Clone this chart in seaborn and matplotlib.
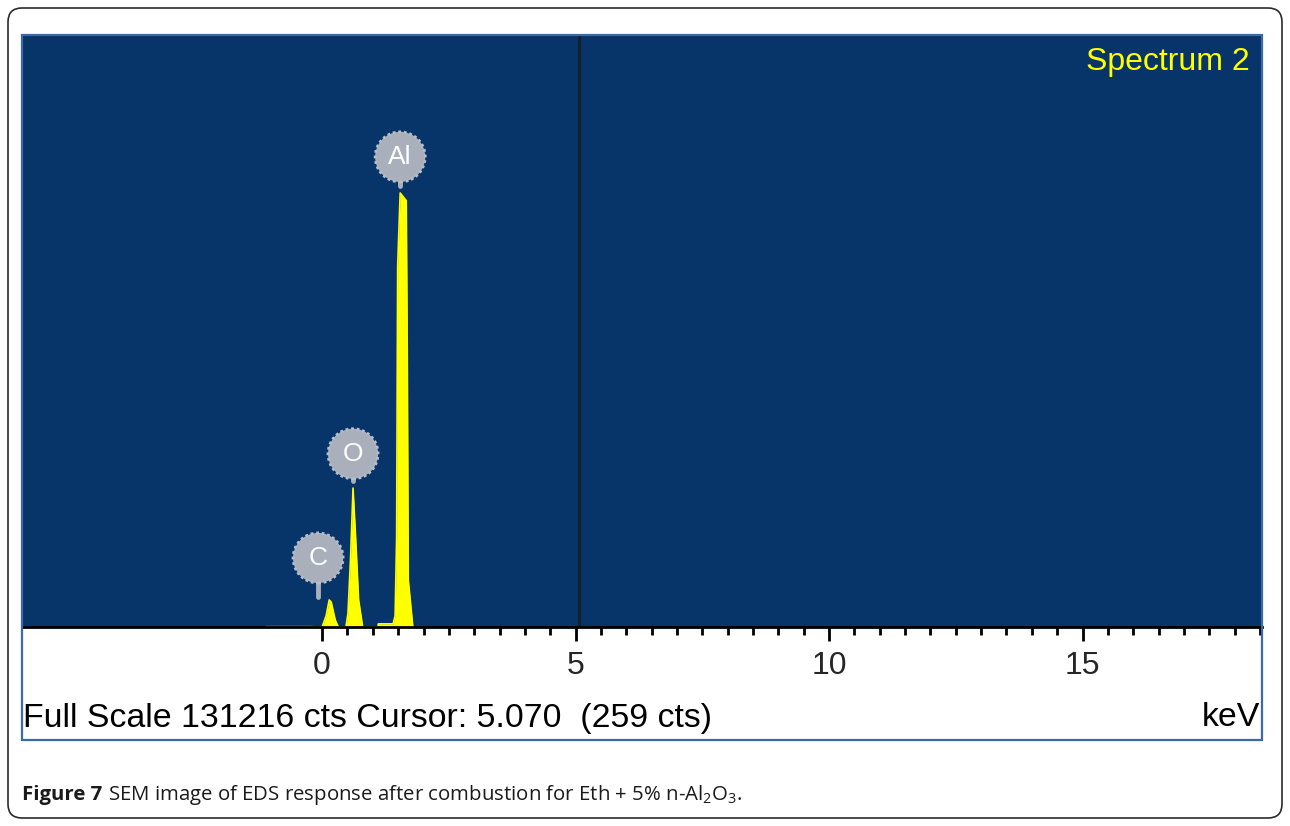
import numpy as np
import pandas as pd
import matplotlib
matplotlib.use("Agg")
import matplotlib.pyplot as plt
import seaborn as sns
from matplotlib.patches import FancyBboxPatch, Rectangle
from matplotlib.transforms import IdentityTransform

# EDS spectrum (energy in keV, counts)
energy = [-1.10, -0.20, 0.00, 0.08, 0.14, 0.18, 0.26, 0.32,
          0.47, 0.51, 0.56, 0.61, 0.66, 0.72, 0.80,
          1.10, 1.11, 1.40, 1.44, 1.47, 1.49, 1.54, 1.66, 1.68, 1.70, 1.79]
counts = [0, 0, 0, 2500, 6000, 5500, 1500, 0,
          0, 3000, 15000, 30800, 20000, 6000, 0,
          0, 700, 700, 2500, 20000, 80000, 96200, 94500, 60000, 10400, 0]

# element markers: label, energy, badge height (cts)
elements = ["C", "O", "Al"]
element_kev = [-0.08, 0.61, 1.54]
element_peak = [5200, 30800, 96200]
badge_cts = [15300, 38400, 104200]

full_scale = 131216
cursor_kev = 5.070
cursor_cts = 259
major_ticks = [0, 5, 10, 15]
x_min, x_max = -5.92, 18.54

bg_blue = "#07356a"
yellow = "#ffff00"
badge_grey = "#a9afbb"

sns.set_style("white")
plt.rcParams["font.family"] = ["Liberation Sans", "DejaVu Sans"]
plt.rcParams["mathtext.fontset"] = "custom"
plt.rcParams["mathtext.rm"] = "Open Sans"

fig = plt.figure(figsize=(12.9, 8.26), dpi=100)
W, H = 1290, 826

# outer rounded frame
frame = FancyBboxPatch((8, 8), 1274, 810, boxstyle="round,pad=0,rounding_size=14",
                       transform=IdentityTransform(), facecolor="white",
                       edgecolor="#2b2b2b", lw=1.2, zorder=-5)
fig.patches.append(frame)

# blue border of the spectrum window
win = Rectangle((22, H - 740), 1240, 705, transform=IdentityTransform(),
                facecolor="none", edgecolor="#3c6aa8", lw=1.6, zorder=5)
fig.patches.append(win)

ax = fig.add_axes([22 / W, 1 - 627 / H, 1240 / W, 592 / H])
ax.set_facecolor(bg_blue)

df = pd.DataFrame({"keV": energy, "cts": counts})
ax.fill_between(df["keV"], 0, df["cts"], color=yellow, lw=0, zorder=2)
sns.lineplot(data=df, x="keV", y="cts", ax=ax, color=yellow, lw=1.2,
             sort=False, estimator=None, zorder=2)
# faint trace left of zero
ax.plot(df["keV"][:2], df["cts"][:2], color="#6d95c9", lw=2.5, zorder=2.2)

# cursor line
ax.axvline(cursor_kev, color="#15202e", lw=2.5, zorder=1)

# element badges
for lab, ex, pk, by in zip(elements, element_kev, element_peak, badge_cts):
    ax.plot([ex, ex], [pk + 1500, by], color=badge_grey, lw=3.5, zorder=4)
    ax.scatter([ex], [by], s=1300, color=badge_grey, edgecolor="#b8bec9",
               linewidth=2, linestyle=(0, (1, 1)), zorder=5)
    ax.text(ex, by, lab, color="white", fontsize=19, ha="center", va="center",
            zorder=6)

ax.text(0.99, 0.955, "Spectrum 2", transform=ax.transAxes, color=yellow,
        fontsize=23, ha="right", va="center")

ax.set_xlim(x_min, x_max)
ax.set_ylim(0, full_scale)
ax.set_yticks([])
ax.set_xlabel("")
ax.set_ylabel("")
ax.set_xticks(major_ticks)
ax.set_xticklabels([str(t) for t in major_ticks])
ax.set_xticks(np.arange(0, 18.6, 0.5), minor=True)
ax.tick_params(axis="x", which="major", length=10, width=2, color="black",
               direction="out", pad=7, labelsize=23, bottom=True)
ax.tick_params(axis="x", which="minor", length=6, width=2, color="black",
               direction="out", bottom=True)
for side in ["top", "left", "right"]:
    ax.spines[side].set_visible(False)
ax.spines["bottom"].set_color("black")
ax.spines["bottom"].set_linewidth(2)

fig.text(23 / W, 1 - 718 / H,
         f"Full Scale {full_scale} cts Cursor: {cursor_kev:.3f}  ({cursor_cts} cts)",
         fontsize=24.4, ha="left", va="center", color="black")
fig.text(1260 / W, 1 - 718 / H, "keV", fontsize=24.4, ha="right", va="center",
         color="black")

# caption
cap1 = fig.text(22 / W, 1 - 795 / H, "Figure 7 ", fontsize=14.7, fontweight="bold",
                family="Open Sans", ha="left", va="center", color="#1a1a1a")
fig.canvas.draw()
bb = cap1.get_window_extent()
fig.text(bb.x1 / W, 1 - 795 / H,
         "SEM image of EDS response after combustion for Eth + 5% n-Al$_\\mathrm{2}$O$_\\mathrm{3}$.",
         fontsize=14.7, family="Open Sans", ha="left", va="center", color="#1a1a1a")

fig.savefig("out.png", dpi=100)
